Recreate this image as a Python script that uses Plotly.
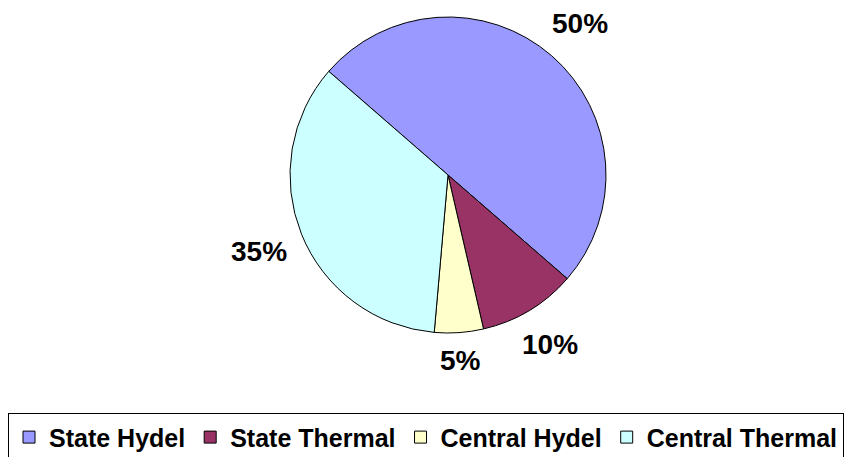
import math

import plotly.graph_objects as go

sources = ["State Hydel", "State Thermal", "Central Hydel", "Central Thermal"]
shares = [50, 10, 5, 35]
colors = ["#9999FF", "#993366", "#FFFFCC", "#CCFFFF"]

W, H = 864, 457
cx, cy, r = 440, 167, 158   # pie centre / radius in pixels (page has an 8px body margin)
start = -49                 # first slice starts here (deg clockwise from 12 o'clock)
gap = 14                    # space between pie edge and label box
half_w, half_h = 30, 12     # rough half size of a label box

fig = go.Figure(go.Pie(
    labels=sources,
    values=shares,
    marker=dict(colors=colors, line=dict(color="black", width=1)),
    sort=False,
    direction="clockwise",
    rotation=start,
    textinfo="none",
    hoverinfo="label+percent",
    domain=dict(x=[(cx - r) / W, (cx + r) / W],
                y=[(H - cy - r) / H, (H - cy + r) / H]),
))

# percent labels placed outside, at the middle angle of each slice
total = sum(shares)
acc = 0
for v in shares:
    mid = math.radians(start + (acc + v / 2) / total * 360)
    acc += v
    dx, dy = math.sin(mid), -math.cos(mid)
    dist = r + gap + abs(dx) * half_w + abs(dy) * half_h
    fig.add_annotation(x=(cx + dist * dx) / W, y=1 - (cy + dist * dy) / H,
                       xref="paper", yref="paper", xanchor="center", yanchor="middle",
                       text="%d%%" % round(v / total * 100), showarrow=False,
                       font=dict(size=28, color="black",
                                 family="Liberation Sans, Arial", weight="bold"))

fig.update_layout(
    width=W, height=H,
    margin=dict(l=0, r=0, t=0, b=0),
    paper_bgcolor="white",
    font=dict(family="Liberation Sans, Arial", color="black"),
    legend=dict(orientation="h", x=0, y=0.008, xanchor="left", yanchor="bottom",
                bordercolor="black", borderwidth=1,
                font=dict(size=25, family="Liberation Sans, Arial", color="black",
                          weight="bold"),
                itemwidth=30),
)

fig.write_html("out.html")
